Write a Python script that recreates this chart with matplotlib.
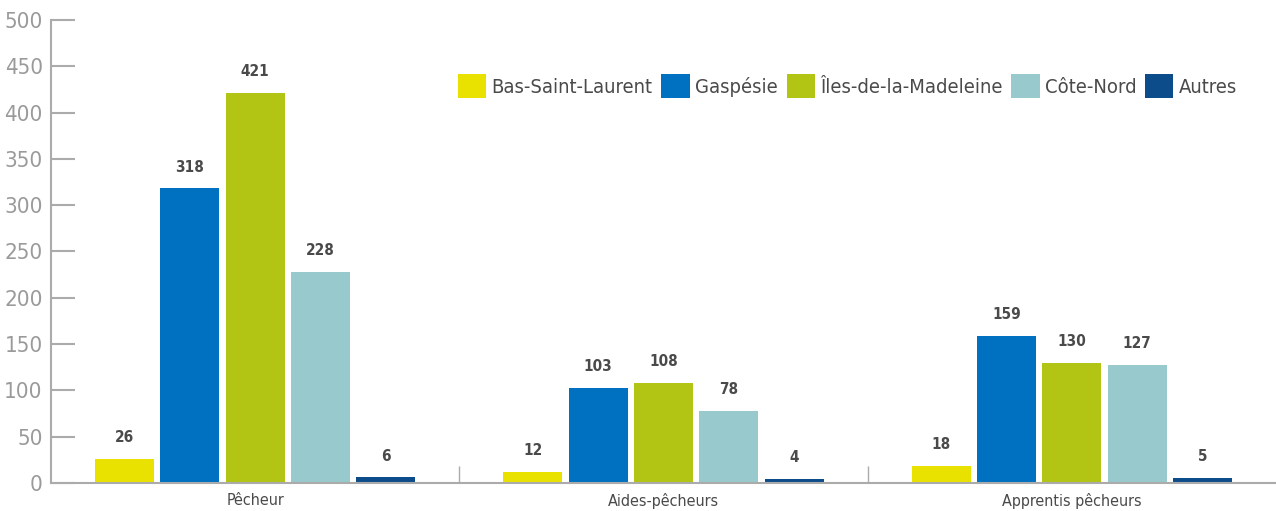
import numpy as np
import matplotlib
matplotlib.use('Agg')
import matplotlib.pyplot as plt

plt.rcParams['font.family'] = ['DejaVu Sans']
plt.rcParams['font.stretch'] = 'condensed'

# Data
categories = ['Pêcheur', 'Aides-pêcheurs', 'Apprentis pêcheurs']
regions = ['Bas-Saint-Laurent', 'Gaspésie', 'Îles-de-la-Madeleine', 'Côte-Nord', 'Autres']
values = {
    'Bas-Saint-Laurent': [26, 12, 18],
    'Gaspésie': [318, 103, 159],
    'Îles-de-la-Madeleine': [421, 108, 130],
    'Côte-Nord': [228, 78, 127],
    'Autres': [6, 4, 5],
}
colors = ['#E9E100', '#0071C1', '#B2C514', '#98C9CC', '#0D4C8A']

fig = plt.figure(figsize=(12.76, 5.11), dpi=100)
ax = fig.add_axes([0.040, 0.0548, 0.960, 0.9062])

x = np.arange(len(categories))
step = 0.16
width = 0.144
for i, (reg, col) in enumerate(zip(regions, colors)):
    pos = x + (i - 2) * step
    bars = ax.bar(pos, values[reg], width=width, color=col, label=reg, zorder=2)
    for b, v in zip(bars, values[reg]):
        ax.annotate(str(v), (b.get_x() + b.get_width() / 2, v),
                    xytext=(0, 10), textcoords='offset points',
                    ha='center', va='bottom', fontsize=11,
                    color='#4a4a4a', fontweight='bold')

ax.set_xlim(-0.5, 2.5)
ax.set_ylim(0, 500)
ax.set_yticks(np.arange(0, 501, 50))

spine_col = '#ababab'
for s in ['top', 'right']:
    ax.spines[s].set_visible(False)
for s in ['left', 'bottom']:
    ax.spines[s].set_color(spine_col)
    ax.spines[s].set_linewidth(1.5)

ax.tick_params(axis='y', direction='in', length=17, width=1.5, color=spine_col,
               labelcolor='#9a9a9a', labelsize=16, pad=6)
ax.set_xticks(x)
ax.set_xticklabels(categories)
ax.tick_params(axis='x', which='major', length=0, labelcolor='#4a4a4a',
               labelsize=11.5, pad=7)
ax.set_xticks([0.5, 1.5], minor=True)
ax.tick_params(axis='x', which='minor', direction='in', length=12, width=1,
               color=spine_col)

leg = ax.legend(loc='upper right', bbox_to_anchor=(0.9745, 0.9), ncol=5,
                frameon=False, fontsize=14.5, handlelength=1.4, handleheight=1.4,
                handletextpad=0.25, columnspacing=0.45, labelcolor='#4a4a4a',
                borderaxespad=0)

fig.savefig('out.png', dpi=100)
